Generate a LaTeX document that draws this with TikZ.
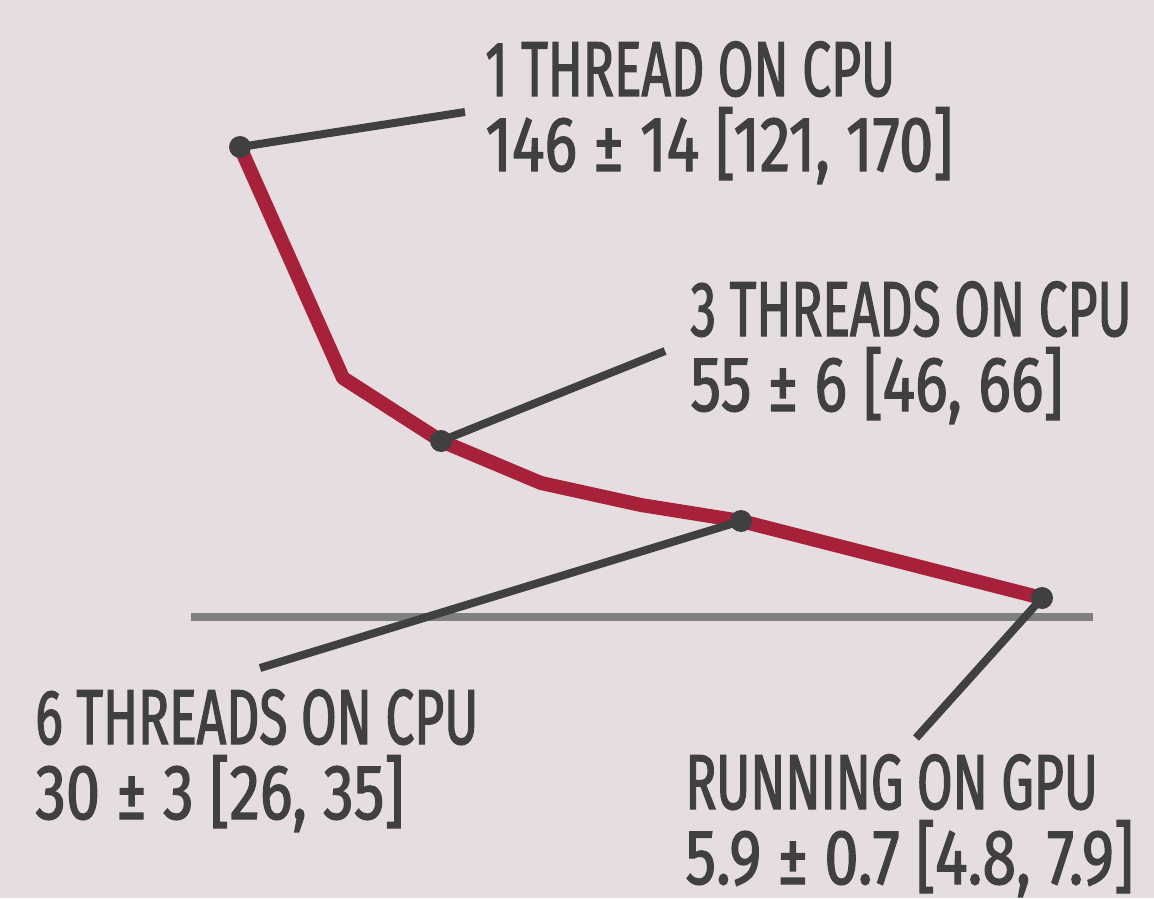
\documentclass[tikz,border=0pt]{standalone}
\usepackage{fontspec}
\setmainfont[FakeStretch=0.66,FakeBold=1.6]{Fira Sans}
\newfontfamily\numfont[FakeStretch=0.785,FakeBold=1.6]{Fira Sans}
\usetikzlibrary{positioning,backgrounds}
\definecolor{bgpink}{HTML}{E6DDE0}
\definecolor{curvered}{HTML}{A8213B}
\definecolor{inkgray}{HTML}{404040}
\definecolor{axisgray}{HTML}{808080}
\begin{document}
\begin{tikzpicture}[
	x=0.5pt, y=-0.5pt,
	datapt/.style={circle, fill=inkgray, inner sep=0pt, minimum size=11pt},
	leader/.style={draw=inkgray, line width=4pt},
	curve/.style={draw=curvered, line width=7pt, line join=round},
	caption/.style={anchor=base west, inner sep=0pt, align=left, text=inkgray,
		font=\fontsize{39}{37.5}\selectfont}
]
	\useasboundingbox (0,0) rectangle (1154,898);
	% data points
	\node[datapt] (cpu1) at (240,147) {};
	\node[datapt] (cpu3) at (441,441) {};
	\node[datapt] (cpu6) at (741,521) {};
	\node[datapt] (gpu) at (1042,598) {};
	% bends of the curve
	\coordinate (k2) at (343,378);
	\coordinate (k4) at (541,483);
	\coordinate (k5) at (641,505);
	% captions (anchored on the baseline of the second line)
	\node[caption] (lbl1) at (485,171) {1 THREAD ON CPU\\{\numfont 146 ± 14 [121, 170]}};
	\node[caption] (lbl3) at (690,411) {3 THREADS ON CPU\\{\numfont 55 ± 6 [46, 66]}};
	\node[caption] (lbl6) at (35,819) {6 THREADS ON CPU\\{\numfont 30 ± 3 [26, 35]}};
	\node[caption] (lblg) at (685,884) {RUNNING ON GPU\\{\numfont 5.9 ± 0.7 [4.8, 7.9]}};
	% leader ends
	\coordinate (e1) at (465,112);
	\coordinate (e3) at (665,351);
	\coordinate (e6) at (260,668);
	\coordinate (eg) at (916,738);
	\begin{scope}[on background layer]
		\fill[bgpink] (0,0) rectangle (1154,898);
		\draw[axisgray, line width=4pt] (191,617) -- (1093,617);
		\draw[curve] (cpu1.center) -- (k2) -- (cpu3.center) -- (k4) -- (k5)
			-- (cpu6.center) -- (gpu.center);
		\draw[leader] (cpu1.center) -- (e1);
		\draw[leader] (cpu3.center) -- (e3);
		\draw[leader] (cpu6.center) -- (e6);
		\draw[leader] (gpu.center) -- (eg);
	\end{scope}
\end{tikzpicture}
\end{document}
